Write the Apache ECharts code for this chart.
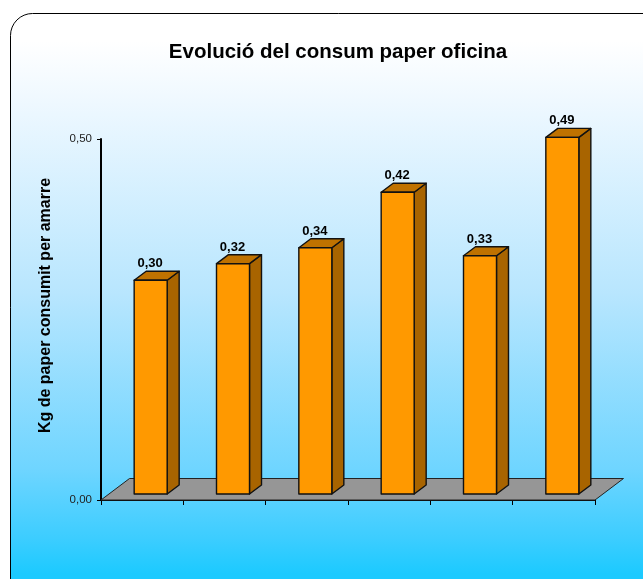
<!DOCTYPE html>
<html><head><meta charset="utf-8">
<style>html,body{margin:0;padding:0;background:#fff;overflow:hidden}#c{width:643px;height:579px}</style>
<script src="https://cdn.jsdelivr.net/npm/echarts@6/dist/echarts.min.js"></script>
</head><body><div id="c"></div>
<script>
const categories = ['1','2','3','4','5','6'];
const values = [0.296,0.319,0.341,0.418,0.330,0.494];
const tickLabels = ['0,00','0,50'];
const titleText = 'Evolució del consum paper oficina';
const yName = 'Kg de paper consumit per amarre';

const chart = echarts.init(document.getElementById('c'),null,{renderer:'canvas'});
const fmt = v => v.toFixed(2).replace('.',',');
function bar3d(params, api){
  const i = api.value(0), v = api.value(1);
  const c0 = api.coord([i,0]), c1 = api.coord([i,v]);
  const ox = 8.5, oy = -6, w = 33, dx = 12, dy = 9;
  const l = c0[0]+ox-w/2, r = l+w, b = c0[1]+oy, t = c1[1]+oy;
  const line = {stroke:'#111',lineWidth:1.4,lineJoin:'round'};
  return {type:'group',children:[
    {type:'polygon',shape:{points:[[r,b],[r+dx,b-dy],[r+dx,t-dy],[r,t]]},style:{fill:'#a86400',...line}},
    {type:'polygon',shape:{points:[[l,t],[l+dx,t-dy],[r+dx,t-dy],[r,t]]},style:{fill:'#bf7200',...line}},
    {type:'rect',shape:{x:l,y:t,width:w,height:b-t},style:{fill:'#ff9900',...line}},
    {type:'text',x:l+w/2-0.5,y:t-10,style:{text:fmt(v),font:'bold 13px "Liberation Sans",Arial,sans-serif',fill:'#000',align:'center',verticalAlign:'bottom'}}
  ]};
}
function floor(params, api){
  if(params.dataIndex!==0) return null;
  const a = api.coord([0,0]), band = api.size([1,0])[0];
  const x0 = a[0]-band/2, x1 = x0+band*categories.length, y = a[1], dx = 28.5, dy = 21.5;
  return {type:'polygon',shape:{points:[[x0,y],[x0+dx,y-dy],[x1+dx,y-dy],[x1,y]]},style:{fill:'#969696',stroke:'#222',lineWidth:1}};
}
chart.setOption({
  animation:false,
  title:{text:titleText,left:333,top:37,textAlign:'center',textStyle:{fontFamily:'"Liberation Sans",Arial,sans-serif',fontWeight:'bold',fontSize:20.5,color:'#000'}},
  graphic:[{type:'rect',z:-10,silent:true,shape:{x:10.5,y:13.5,width:700,height:700,r:22},
    style:{stroke:'#000',lineWidth:1,fill:new echarts.graphic.LinearGradient(0,0,0,1,[
      {offset:0,color:'#ffffff'},{offset:0.04,color:'#ffffff'},{offset:0.13,color:'#eef8ff'},{offset:0.4,color:'#b8e6fe'},{offset:0.65,color:'#6fd5ff'},{offset:0.75,color:'#3ccdff'},{offset:0.8,color:'#1ccaff'},{offset:1,color:'#1ccaff'}],false)}}],
  grid:{left:101,top:139,width:494,height:361,containLabel:false},
  xAxis:{type:'category',data:categories,boundaryGap:true,
    axisLine:{lineStyle:{color:'#000',width:2}},
    axisTick:{show:true,alignWithLabel:false,length:5,lineStyle:{color:'#000',width:1}},
    axisLabel:{show:false},splitLine:{show:false}},
  yAxis:{type:'value',min:0,max:0.5,interval:0.5,name:yName,nameLocation:'middle',nameGap:47,
    nameTextStyle:{fontFamily:'"Liberation Sans",Arial,sans-serif',fontWeight:'bold',fontSize:16,color:'#000',padding:[0,0,0,28]},
    axisLine:{show:true,lineStyle:{color:'#000',width:2}},
    axisTick:{show:true,length:4,lineStyle:{color:'#000',width:1}},
    axisLabel:{margin:9,fontFamily:'"Liberation Sans",Arial,sans-serif',fontSize:11.5,color:'#222',formatter:v=>v===0?tickLabels[0]:tickLabels[1]},
    splitLine:{show:false}},
  series:[
    {type:'custom',z:1,coordinateSystem:'cartesian2d',renderItem:floor,data:values.map((v,i)=>[i,v]),encode:{x:0,y:1},clip:false,silent:true},
    {type:'custom',z:3,coordinateSystem:'cartesian2d',renderItem:bar3d,data:values.map((v,i)=>[i,v]),encode:{x:0,y:1},clip:false}
  ]
});
</script></body></html>
